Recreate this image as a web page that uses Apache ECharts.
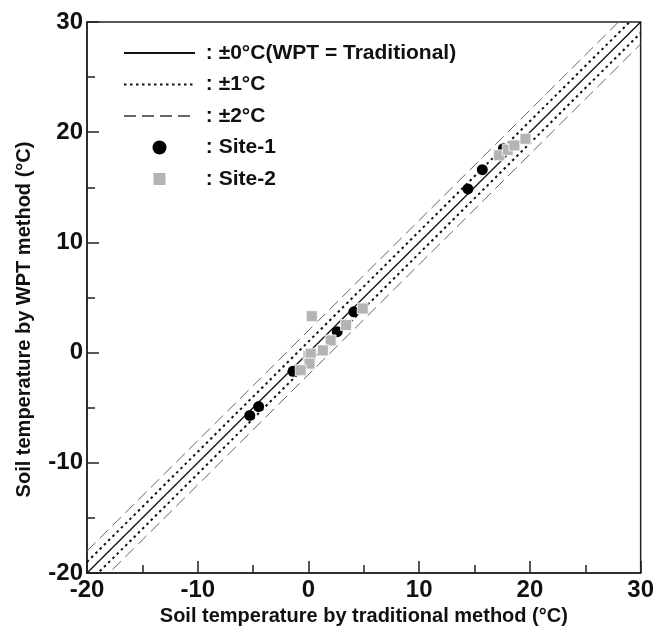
<!DOCTYPE html>
<html>
<head>
<meta charset="utf-8">
<script src="https://cdn.jsdelivr.net/npm/echarts@6/dist/echarts.min.js"></script>
<style>
html,body{margin:0;padding:0;background:#fff;}
#chart{width:657px;height:635px;}
</style>
</head>
<body>
<div id="chart"></div>
<script>
// axis range and ticks
var axisMin = -20, axisMax = 30, axisStep = 10;
// reference lines: offsets (°C) from the 1:1 line
var offset0 = 0, offset1 = 1, offset2 = 2;
// Site-1 (traditional, WPT)
var site1 = [[-5.3,-5.7],[-4.5,-4.9],[-1.4,-1.7],[2.6,1.9],[4.1,3.7],[14.4,14.85],[15.7,16.6],[17.6,18.5]];
// Site-2 (traditional, WPT)
var site2 = [[0.3,3.3],[4.9,4.0],[3.4,2.5],[2.0,1.1],[1.3,0.2],[0.0,-0.3],[0.2,-0.1],[0.1,-1.0],[-0.7,-1.6],[17.2,17.9],[18.0,18.4],[18.6,18.8],[19.6,19.4]];
var legendNames = [': ±0°C(WPT = Traditional)', ': ±1°C', ': ±2°C', ': Site-1', ': Site-2'];

function lineData(off){ return [[axisMin, axisMin + off],[axisMax, axisMax + off]]; }

var chart = echarts.init(document.getElementById('chart'));
var font = 'Liberation Sans, Arial, sans-serif';
var dotted = {color:'#111', width:2, type:[2.5,3.5]};
var dashed = {color:'#666', width:1, type:[12,6]};
var hiddenDot = {color:'rgba(0,0,0,0)', borderColor:'rgba(0,0,0,0)', borderWidth:0, opacity:0};
var axisCommon = {
  type:'value', min:axisMin, max:axisMax, interval:axisStep,
  nameLocation:'middle',
  axisLine:{onZero:false, lineStyle:{color:'#222', width:1.5}},
  axisTick:{inside:true, length:12, lineStyle:{color:'#222', width:1.5}},
  minorTick:{show:true, splitNumber:2, length:8, lineStyle:{color:'#222', width:1.5}},
  splitLine:{show:false}
};
var option = {
  animation:false,
  backgroundColor:'#fff',
  grid:{left:87, right:15, top:22, bottom:62, show:true, borderColor:'#222', borderWidth:1.5, backgroundColor:'transparent'},
  legend:{
    orient:'vertical', left:123, top:42, padding:0, itemWidth:71, itemHeight:14, itemGap:9.5,
    selectedMode:false,
    data:[
      {name:legendNames[0], itemStyle:hiddenDot},
      {name:legendNames[1], itemStyle:hiddenDot},
      {name:legendNames[2], itemStyle:hiddenDot},
      {name:legendNames[3]},
      {name:legendNames[4], icon:'path://M0,0h10v10h-10z'}
    ],
    formatter:function(n){ return ' ' + n; },
    textStyle:{fontFamily:font, fontSize:21, fontWeight:'bold', color:'#111', lineHeight:22}
  },
  xAxis:Object.assign({}, axisCommon, {
    name:'Soil temperature by traditional method (°C)', nameGap:20,
    nameTextStyle:{fontFamily:font, fontSize:20, fontWeight:'bold', color:'#111'},
    axisLabel:{fontFamily:font, fontSize:24, fontWeight:'bold', color:'#111', margin:5}
  }),
  yAxis:Object.assign({}, axisCommon, {
    name:'Soil temperature by WPT method (°C)', nameGap:53,
    nameTextStyle:{fontFamily:font, fontSize:20, fontWeight:'bold', color:'#111', padding:[0,44,0,0]},
    axisLabel:{fontFamily:font, fontSize:24, fontWeight:'bold', color:'#111', margin:4}
  }),
  series:[
    {name:legendNames[0], type:'line', data:lineData(offset0), showSymbol:false, symbol:'none', lineStyle:{color:'#111', width:1.3}, z:2},
    {name:legendNames[1], type:'line', data:lineData(offset1), showSymbol:false, symbol:'none', lineStyle:dotted, z:2},
    {name:legendNames[1], type:'line', data:lineData(-offset1), showSymbol:false, symbol:'none', lineStyle:dotted, z:2},
    {name:legendNames[2], type:'line', data:lineData(offset2), showSymbol:false, symbol:'none', lineStyle:dashed, z:2},
    {name:legendNames[2], type:'line', data:lineData(-offset2), showSymbol:false, symbol:'none', lineStyle:dashed, z:2},
    {name:legendNames[3], type:'scatter', data:site1, symbol:'circle', symbolSize:11, itemStyle:{color:'#000', opacity:1}, z:3},
    {name:legendNames[4], type:'scatter', data:site2, symbol:'rect', symbolSize:11, itemStyle:{color:'#b3b5b5', opacity:1, borderColor:'#fff', borderWidth:0.8}, z:4}
  ]
};
chart.setOption(option);
</script>
</body>
</html>
